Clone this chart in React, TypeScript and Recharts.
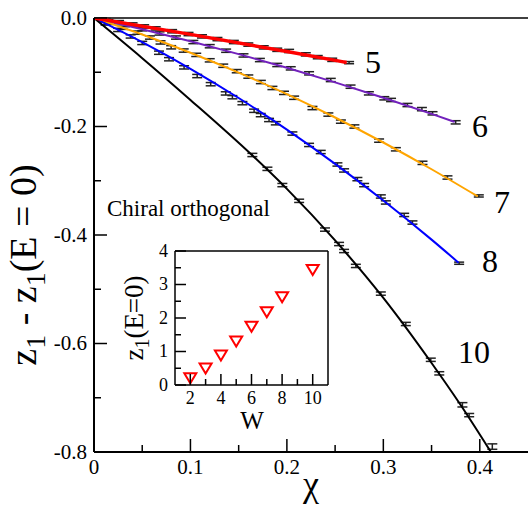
import React from "react";
import {
  ComposedChart, ScatterChart, Line, Scatter, XAxis, YAxis, ErrorBar, ReferenceLine,
} from "recharts";

const SERIF = "Liberation Serif";

// main panel ticks
const xTicks = [0, 0.05, 0.1, 0.15, 0.2, 0.25, 0.3, 0.35, 0.4];
const xTickLabels = ["0", "", "0.1", "", "0.2", "", "0.3", "", "0.4"];
const yTicks = [0, -0.1, -0.2, -0.3, -0.4, -0.5, -0.6, -0.7, -0.8];
const yTickLabels = ["0.0", "", "-0.2", "", "-0.4", "", "-0.6", "", "-0.8"];

// fitted curves
const line5 = [
  { x: 0, y: 0 }, { x: 0.1, y: -0.0302 }, { x: 0.2, y: -0.0618 }, { x: 0.262, y: -0.082 },
];
const line6 = [
  { x: 0, y: 0 }, { x: 0.05, y: -0.0207 }, { x: 0.1, y: -0.0429 }, { x: 0.15, y: -0.0666 },
  { x: 0.2, y: -0.0918 }, { x: 0.25, y: -0.1186 }, { x: 0.3, y: -0.1469 }, { x: 0.35, y: -0.1768 },
  { x: 0.374, y: -0.1915 },
];
const line7 = [
  { x: 0, y: 0 }, { x: 0.05, y: -0.0304 }, { x: 0.1, y: -0.064 }, { x: 0.15, y: -0.1006 },
  { x: 0.2, y: -0.1404 }, { x: 0.25, y: -0.1834 }, { x: 0.3, y: -0.2295 }, { x: 0.35, y: -0.2788 },
  { x: 0.398, y: -0.329 },
];
const line8 = [
  { x: 0, y: 0 }, { x: 0.05, y: -0.0446 }, { x: 0.1, y: -0.0937 }, { x: 0.15, y: -0.1475 },
  { x: 0.2, y: -0.2058 }, { x: 0.25, y: -0.2688 }, { x: 0.3, y: -0.3363 }, { x: 0.35, y: -0.4085 },
  { x: 0.378, y: -0.451 },
];
const line10 = [
  { x: 0, y: 0 }, { x: 0.05, y: -0.074 }, { x: 0.1, y: -0.151 }, { x: 0.164, y: -0.253 },
  { x: 0.2, y: -0.315 }, { x: 0.25, y: -0.41 }, { x: 0.3, y: -0.516 }, { x: 0.35, y: -0.636 },
  { x: 0.38, y: -0.713 }, { x: 0.4115, y: -0.8 },
];

// data points with error bars
const pts5 = [
  { x: 0.012, y: -0.0036, e: 0.003 }, { x: 0.026, y: -0.0077, e: 0.003 }, { x: 0.04, y: -0.0119, e: 0.003 },
  { x: 0.052, y: -0.0155, e: 0.003 }, { x: 0.064, y: -0.0192, e: 0.003 }, { x: 0.081, y: -0.0244, e: 0.003 },
  { x: 0.098, y: -0.0296, e: 0.003 }, { x: 0.112, y: -0.0339, e: 0.003 }, { x: 0.128, y: -0.0389, e: 0.003 },
  { x: 0.145, y: -0.0443, e: 0.003 }, { x: 0.16, y: -0.049, e: 0.003 }, { x: 0.176, y: -0.0541, e: 0.003 },
  { x: 0.19, y: -0.0586, e: 0.003 }, { x: 0.2023, y: -0.0608, e: 0.003 }, { x: 0.2196, y: -0.067, e: 0.003 },
  { x: 0.232, y: -0.0722, e: 0.003 }, { x: 0.247, y: -0.0771, e: 0.003 }, { x: 0.2645, y: -0.0823, e: 0.002 },
];
const pts6 = [
  { x: 0.015, y: -0.006, e: 0.003 }, { x: 0.032, y: -0.0131, e: 0.003 }, { x: 0.05, y: -0.0207, e: 0.003 },
  { x: 0.068, y: -0.0285, e: 0.003 }, { x: 0.085, y: -0.036, e: 0.003 }, { x: 0.103, y: -0.0443, e: 0.003 },
  { x: 0.12, y: -0.052, e: 0.003 }, { x: 0.137, y: -0.0603, e: 0.003 }, { x: 0.155, y: -0.069, e: 0.003 },
  { x: 0.172, y: -0.0775, e: 0.003 }, { x: 0.19, y: -0.0866, e: 0.003 }, { x: 0.204, y: -0.0928, e: 0.003 },
  { x: 0.223, y: -0.102, e: 0.003 }, { x: 0.2455, y: -0.1143, e: 0.003 }, { x: 0.266, y: -0.1266, e: 0.003 },
  { x: 0.285, y: -0.1389, e: 0.003 }, { x: 0.301, y: -0.148, e: 0.003 }, { x: 0.308, y: -0.1511, e: 0.003 },
  { x: 0.325, y: -0.1604, e: 0.003 }, { x: 0.34, y: -0.168, e: 0.003 }, { x: 0.351, y: -0.1757, e: 0.003 },
  { x: 0.375, y: -0.1923, e: 0.003 },
];
const pts7 = [
  { x: 0.015, y: -0.009, e: 0.003 }, { x: 0.03, y: -0.018, e: 0.003 }, { x: 0.045, y: -0.027, e: 0.003 },
  { x: 0.058, y: -0.036, e: 0.003 }, { x: 0.069, y: -0.045, e: 0.003 }, { x: 0.08, y: -0.054, e: 0.003 },
  { x: 0.093, y: -0.06, e: 0.003 }, { x: 0.106, y: -0.068, e: 0.003 }, { x: 0.12, y: -0.078, e: 0.003 },
  { x: 0.134, y: -0.088, e: 0.003 }, { x: 0.148, y: -0.098, e: 0.003 }, { x: 0.16, y: -0.108, e: 0.003 },
  { x: 0.173, y: -0.118, e: 0.003 }, { x: 0.185, y: -0.129, e: 0.003 }, { x: 0.197, y: -0.138, e: 0.003 },
  { x: 0.2075, y: -0.147, e: 0.003 }, { x: 0.2265, y: -0.166, e: 0.003 }, { x: 0.243, y: -0.178, e: 0.003 },
  { x: 0.256, y: -0.191, e: 0.003 }, { x: 0.27, y: -0.2, e: 0.003 }, { x: 0.2956, y: -0.226, e: 0.003 },
  { x: 0.313, y: -0.242, e: 0.003 }, { x: 0.3406, y: -0.267, e: 0.003 }, { x: 0.3665, y: -0.294, e: 0.003 },
  { x: 0.399, y: -0.328, e: 0.002 },
];
const pts8 = [
  { x: 0.012, y: -0.01, e: 0.003 }, { x: 0.025, y: -0.022, e: 0.003 }, { x: 0.038, y: -0.034, e: 0.003 },
  { x: 0.05, y: -0.046, e: 0.003 }, { x: 0.0674, y: -0.064, e: 0.003 }, { x: 0.0778, y: -0.076, e: 0.003 },
  { x: 0.0934, y: -0.091, e: 0.003 }, { x: 0.107, y: -0.107, e: 0.003 }, { x: 0.121, y: -0.122, e: 0.003 },
  { x: 0.1366, y: -0.139, e: 0.003 }, { x: 0.1435, y: -0.146, e: 0.003 }, { x: 0.1539, y: -0.157, e: 0.003 },
  { x: 0.166, y: -0.171, e: 0.003 }, { x: 0.1729, y: -0.179, e: 0.003 }, { x: 0.1815, y: -0.188, e: 0.003 },
  { x: 0.1885, y: -0.194, e: 0.003 }, { x: 0.2057, y: -0.213, e: 0.003 }, { x: 0.223, y: -0.234, e: 0.003 },
  { x: 0.2351, y: -0.247, e: 0.003 }, { x: 0.2524, y: -0.27, e: 0.003 }, { x: 0.2593, y: -0.281, e: 0.003 },
  { x: 0.2731, y: -0.297, e: 0.003 }, { x: 0.2801, y: -0.308, e: 0.003 }, { x: 0.2974, y: -0.329, e: 0.003 },
  { x: 0.3026, y: -0.34, e: 0.003 }, { x: 0.3216, y: -0.363, e: 0.003 }, { x: 0.3302, y: -0.377, e: 0.003 },
  { x: 0.3786, y: -0.452, e: 0.002 },
];
const pts10 = [
  { x: 0.1642, y: -0.2525, e: 0.003 }, { x: 0.1798, y: -0.278, e: 0.003 }, { x: 0.1953, y: -0.308, e: 0.003 },
  { x: 0.2127, y: -0.337, e: 0.003 }, { x: 0.2395, y: -0.39, e: 0.003 }, { x: 0.2541, y: -0.4166, e: 0.003 },
  { x: 0.2593, y: -0.4295, e: 0.003 }, { x: 0.2715, y: -0.457, e: 0.003 }, { x: 0.2974, y: -0.508, e: 0.003 },
  { x: 0.3233, y: -0.564, e: 0.003 }, { x: 0.3492, y: -0.63, e: 0.003 }, { x: 0.358, y: -0.655, e: 0.003 },
  { x: 0.382, y: -0.713, e: 0.004 }, { x: 0.389, y: -0.732, e: 0.003 }, { x: 0.413, y: -0.79, e: 0.005 },
];

// inset
const insetW = [2, 3, 4, 5, 6, 7, 8, 10];
const insetZ = [0.23, 0.52, 0.91, 1.33, 1.77, 2.2, 2.65, 3.46];
const wTicks = [2, 3, 4, 5, 6, 7, 8, 9, 10];
const wTickLabels = ["2", "", "4", "", "6", "", "8", "", "10"];
const zTicks = [0, 0.5, 1, 1.5, 2, 2.5, 3, 3.5, 4];
const zTickLabels = ["0", "", "1", "", "2", "", "3", "", "4"];

const insetData = insetW.map((w, i) => ({ w, z: insetZ[i] }));

const markerSets = [pts5, pts6, pts7, pts8, pts10];
const curves = [
  { data: line6, color: "#7221bc", width: 2 },
  { data: line7, color: "#ffa500", width: 2 },
  { data: line8, color: "#0000ff", width: 2 },
  { data: line10, color: "#000000", width: 2 },
  { data: line5, color: "#ff0000", width: 3.5 },
];

const Hidden = () => <g />;

function makeXTick(ticks: number[], labels: string[], big: number, small: number, fs: number, dy: number) {
  return (props: any) => {
    const { x, y, payload } = props;
    const label = labels[ticks.indexOf(payload.value)] ?? "";
    return (
      <g>
        <line x1={x} x2={x} y1={y} y2={y - (label ? big : small)} stroke="#000" strokeWidth={1.5} />
        {label && (
          <text x={x} y={y + dy} textAnchor="middle" fontSize={fs} style={{ fontFamily: SERIF }} fill="#000">{label}</text>
        )}
      </g>
    );
  };
}

function makeYTick(ticks: number[], labels: string[], big: number, small: number, fs: number, gap: number) {
  return (props: any) => {
    const { x, y, payload } = props;
    const label = labels[ticks.indexOf(payload.value)] ?? "";
    return (
      <g>
        <line x1={x} x2={x + (label ? big : small)} y1={y} y2={y} stroke="#000" strokeWidth={1.5} />
        {label && (
          <text x={x - gap} y={y + fs * 0.33} textAnchor="end" fontSize={fs} style={{ fontFamily: SERIF }} fill="#000">{label}</text>
        )}
      </g>
    );
  };
}

const XTick = makeXTick(xTicks, xTickLabels, 13, 7, 21, 22);
const YTick = makeYTick(yTicks, yTickLabels, 13, 7, 21, 7);
const WTick = makeXTick(wTicks, wTickLabels, 11, 6, 18, 19);
const ZTick = makeYTick(zTicks, zTickLabels, 11, 6, 18, 7);

const Triangle = (props: any) => {
  const { cx, cy } = props;
  return (
    <path
      d={`M${cx - 6},${cy - 4} L${cx + 6},${cy - 4} L${cx},${cy + 6} Z`}
      fill="none" stroke="#ff0000" strokeWidth={2}
    />
  );
};

const txt = { fontFamily: SERIF };

export default function App() {
  return (
    <div style={{ position: "absolute", left: 0, top: 0, width: 528, height: 505, background: "#fff", overflow: "hidden" }}>
      <div style={{ position: "absolute", left: 0, top: 0 }}>
        <ComposedChart width={528} height={505} margin={{ top: 18, right: 0, bottom: 0, left: 0 }}>
          <XAxis
            type="number" dataKey="x" domain={[0, 0.45]} ticks={xTicks} interval={0}
            tickSize={0} tickMargin={0} tick={XTick} height={53}
            axisLine={{ stroke: "#000", strokeWidth: 2 }} allowDataOverflow
          />
          <YAxis
            type="number" domain={[-0.8, 0]} ticks={yTicks} interval={0}
            tickSize={0} tickMargin={0} tick={YTick} width={94}
            axisLine={{ stroke: "#000", strokeWidth: 2 }} allowDataOverflow
          />
          <ReferenceLine y={0} stroke="#000" strokeWidth={1.5} />
          {markerSets.map((pts, i) => (
            <Scatter key={i} data={pts} dataKey="y" shape={Hidden} isAnimationActive={false}>
              <ErrorBar dataKey="e" direction="y" width={5} stroke="#222" strokeWidth={1.5} isAnimationActive={false} />
            </Scatter>
          ))}
          {curves.map((c, i) => (
            <Line
              key={i} data={c.data} dataKey="y" type="monotone" stroke={c.color}
              strokeWidth={c.width} dot={false} activeDot={false} isAnimationActive={false}
            />
          ))}
        </ComposedChart>
      </div>

      <div style={{ position: "absolute", left: 100, top: 240 }}>
        <ScatterChart width={235} height={200} margin={{ top: 11, right: 7, bottom: 0, left: 0 }}>
          <XAxis
            type="number" dataKey="w" domain={[1, 11]} ticks={wTicks} interval={0}
            tickSize={0} tickMargin={0} tick={WTick} height={55}
            axisLine={{ stroke: "#000", strokeWidth: 1.5 }}
          />
          <YAxis
            type="number" dataKey="z" domain={[0, 4]} ticks={zTicks} interval={0}
            tickSize={0} tickMargin={0} tick={ZTick} width={75}
            axisLine={{ stroke: "#000", strokeWidth: 1.5 }}
          />
          <ReferenceLine y={4} stroke="#000" strokeWidth={1.5} />
          <ReferenceLine x={11} stroke="#000" strokeWidth={1.5} />
          <Scatter data={insetData} shape={Triangle} isAnimationActive={false} />
        </ScatterChart>
      </div>

      <svg width={528} height={505} style={{ position: "absolute", left: 0, top: 0, pointerEvents: "none" }}>
        <g fill="#000">
          <text x={373} y={73} fontSize={32} textAnchor="middle" style={txt}>5</text>
          <text x={480} y={137} fontSize={32} textAnchor="middle" style={txt}>6</text>
          <text x={502} y={213} fontSize={32} textAnchor="middle" style={txt}>7</text>
          <text x={490} y={272} fontSize={32} textAnchor="middle" style={txt}>8</text>
          <text x={474} y={363} fontSize={32} textAnchor="middle" style={txt}>10</text>
          <text x={107} y={216} fontSize={23} style={txt}>Chiral orthogonal</text>
          <text x={311} y={496} fontSize={36} textAnchor="middle" style={txt}>χ</text>
          <text x={36} y={265} fontSize={38} textAnchor="middle" transform="rotate(-90 36 265)" style={txt}>
            z<tspan dy={9} fontSize={28}>1</tspan>
            <tspan dy={-9}> - z</tspan>
            <tspan dy={9} fontSize={28}>1</tspan>
            <tspan dy={-9}>(E = 0)</tspan>
          </text>
          <text x={252} y={429} fontSize={25} textAnchor="middle" style={txt}>W</text>
          <text x={143} y={318} fontSize={27} textAnchor="middle" transform="rotate(-90 143 318)" style={txt}>
            z<tspan dy={6} fontSize={20}>1</tspan>
            <tspan dy={-6}>(E=0)</tspan>
          </text>
        </g>
      </svg>
    </div>
  );
}
